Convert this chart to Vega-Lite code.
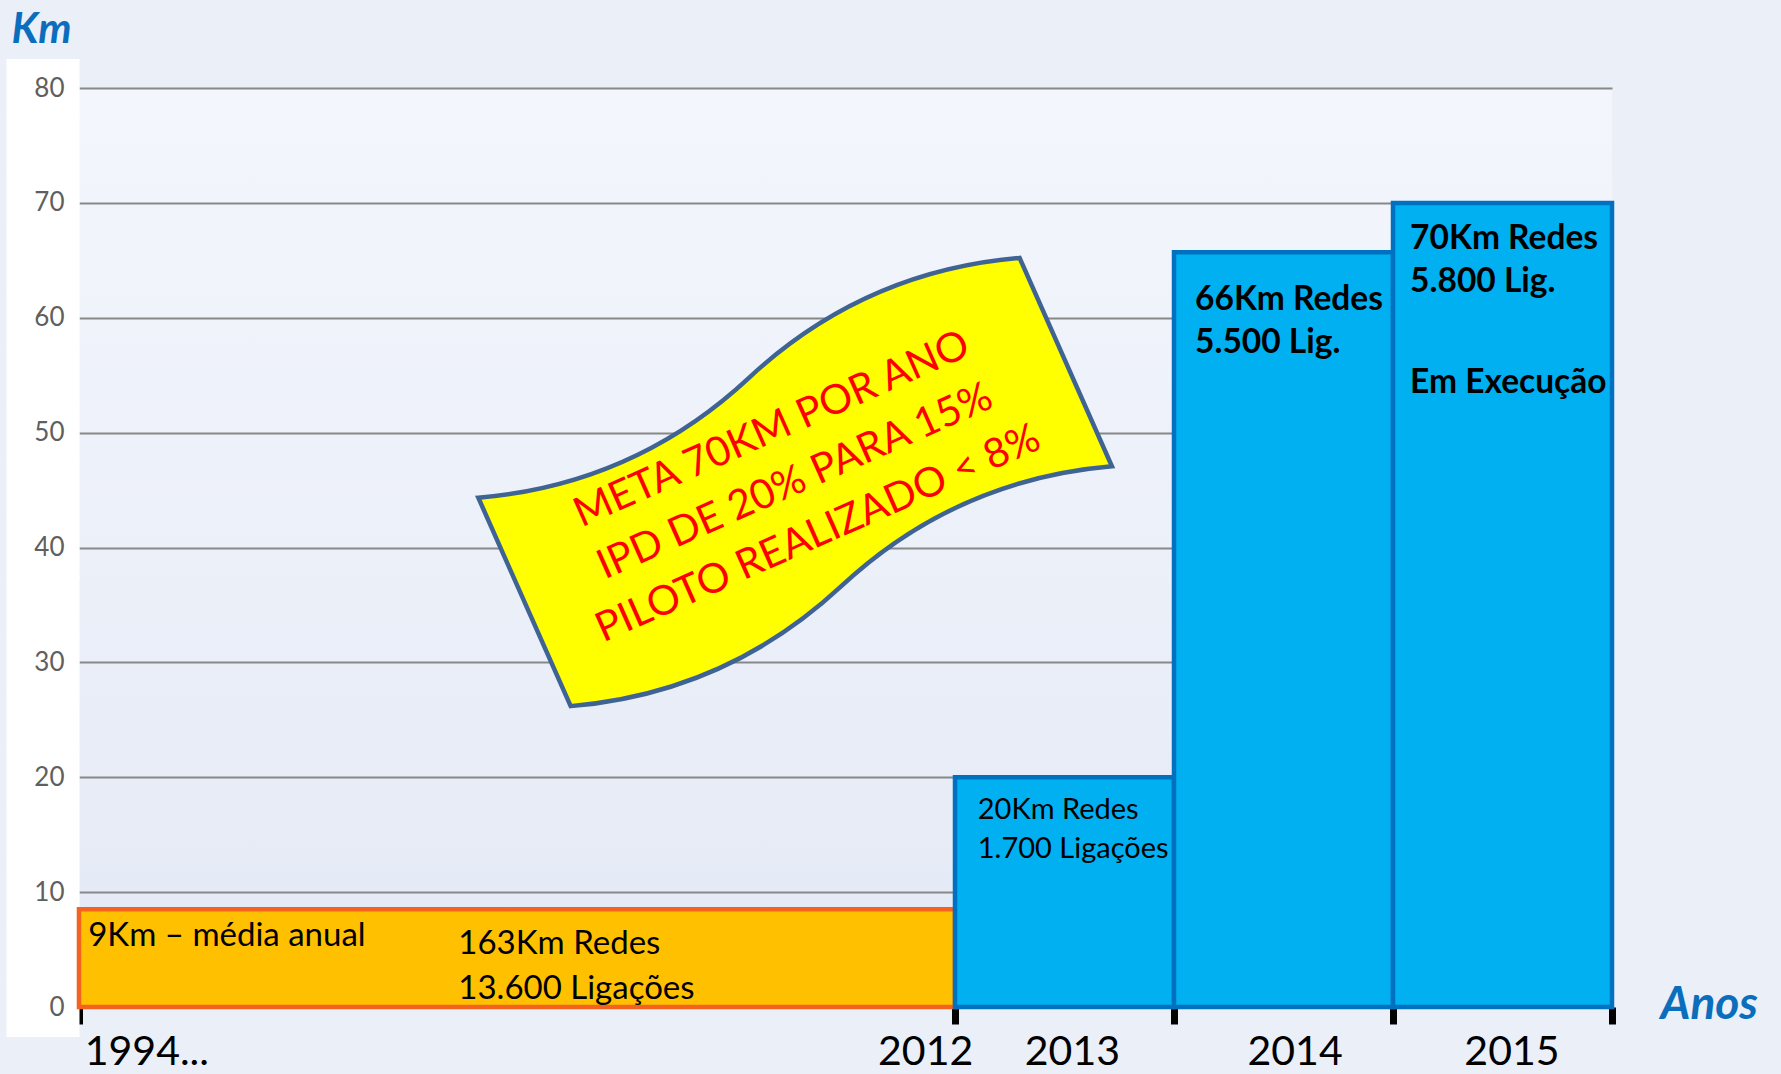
{
  "$schema": "https://vega.github.io/schema/vega-lite/v6.json",
  "width": 1533,
  "height": 919,
  "autosize": {"type": "none"},
  "padding": {"left": 79, "top": 88, "right": 169, "bottom": 67},
  "background": "#EAEFF8",
  "view": {
    "stroke": null,
    "fill": {
      "gradient": "linear", "x1": 0, "y1": 0, "x2": 0, "y2": 1,
      "stops": [
        {"offset": 0, "color": "#F3F6FC"},
        {"offset": 0.5, "color": "#ECF0F9"},
        {"offset": 1, "color": "#E3E9F5"}
      ]
    }
  },
  "datasets": {
    "barras": [
      {"periodo": "1994–2012", "inicio": 0, "fim": 4, "km": 8.5, "tipo": "Histórico"},
      {"periodo": "2013", "inicio": 4, "fim": 5, "km": 20, "tipo": "Programa"},
      {"periodo": "2014", "inicio": 5, "fim": 6, "km": 65.7, "tipo": "Programa"},
      {"periodo": "2015", "inicio": 6, "fim": 7, "km": 70, "tipo": "Programa"}
    ],
    "rotulos": [
      {"texto": "9Km – média anual", "x": 0.042, "y": 5.31, "estilo": "a"},
      {"texto": "163Km Redes\n13.600 Ligações", "x": 1.732, "y": 4.59, "estilo": "a"},
      {"texto": "20Km Redes\n1.700 Ligações", "x": 4.104, "y": 16.37, "estilo": "b"},
      {"texto": "66Km Redes\n5.500 Lig.", "x": 5.096, "y": 60.67, "estilo": "c"},
      {"texto": "70Km Redes\n5.800 Lig.", "x": 6.078, "y": 65.96, "estilo": "c"},
      {"texto": "Em Execução", "x": 6.078, "y": 53.47, "estilo": "c"}
    ],
    "anos": [
      {"ano": "1994...", "x": 0.31, "y": -5.05},
      {"ano": "2012", "x": 3.866, "y": -5.05},
      {"ano": "2013", "x": 4.536, "y": -5.05},
      {"ano": "2014", "x": 5.553, "y": -5.05},
      {"ano": "2015", "x": 6.543, "y": -5.05}
    ],
    "faixa": [
      {"x": 3.27, "y": 45.7, "texto": "META 70KM POR ANO\nIPD DE 20% PARA 15%\nPILOTO REALIZADO < 8%"}
    ]
  },
  "layer": [
    {
      "data": {"name": "barras"},
      "mark": {"type": "rect", "strokeWidth": 4.5, "strokeJoin": "miter"},
      "encoding": {
        "x": {
          "field": "inicio", "type": "quantitative",
          "scale": {"domain": [0, 7], "nice": false, "zero": false},
          "axis": {
            "values": [0, 4, 5, 6, 7],
            "labels": false, "domain": false, "grid": false,
            "ticks": true, "tickSize": 17, "tickWidth": 7, "tickColor": "#000000",
            "title": "Anos", "titleX": 1581, "titleY": 11,
            "titleAlign": "left", "titleBaseline": "alphabetic", "titleAngle": 0,
            "titleFont": "Lato", "titleFontSize": 46, "titleFontStyle": "italic",
            "titleFontWeight": "bold", "titleColor": "#0A6EBD"
          }
        },
        "x2": {"field": "fim"},
        "y": {
          "field": "km", "type": "quantitative",
          "scale": {"domain": [0, 80], "nice": false, "zero": true},
          "axis": {
            "values": [0, 5, 10, 15, 20, 25, 30, 35, 40, 45, 50, 55, 60, 65, 70, 75, 80],
            "labelExpr": "datum.value % 10 === 0 ? datum.label : ''",
            "title": "Km", "titleAngle": 0, "titleX": -68, "titleY": -46,
            "titleAlign": "left", "titleBaseline": "alphabetic",
            "titleFont": "Lato", "titleFontSize": 42, "titleFontStyle": "italic",
            "titleFontWeight": "bold", "titleColor": "#0A6EBD",
            "labelFont": "Lato", "labelFontSize": 26, "labelColor": "#5F5F5F",
            "labelPadding": -58,
            "ticks": true, "tickSize": 73, "tickWidth": 59, "tickColor": "#FFFFFF", "tickCap": "butt",
            "domain": false,
            "grid": true, "gridColor": "#888888", "gridWidth": 2,
            "gridOpacity": {"condition": {"test": "datum.value % 10 === 0", "value": 1}, "value": 0}
          }
        },
        "y2": {"datum": 0},
        "fill": {
          "field": "tipo", "type": "nominal",
          "scale": {"domain": ["Histórico", "Programa"], "range": ["#FFC000", "#00B0F0"]},
          "legend": null
        },
        "stroke": {
          "field": "tipo", "type": "nominal",
          "scale": {"domain": ["Histórico", "Programa"], "range": ["#F4621F", "#0070C0"]},
          "legend": null
        }
      }
    },
    {
      "data": {"name": "faixa"},
      "mark": {
        "type": "point",
        "shape": "M -1 -0.385 C -0.667 -0.27 -0.333 -0.27 0 -0.385 C 0.333 -0.5 0.667 -0.5 1 -0.385 L 1 0.385 C 0.667 0.27 0.333 0.27 0 0.385 C -0.333 0.5 -0.667 0.5 -1 0.385 Z",
        "size": 350464, "angle": 336.1,
        "filled": true, "fill": "#FFFF00", "stroke": "#3F6393", "strokeWidth": 4.5,
        "opacity": 1, "fillOpacity": 1
      },
      "encoding": {
        "x": {"field": "x", "type": "quantitative", "scale": {"domain": [0, 7], "nice": false, "zero": false}},
        "y": {"field": "y", "type": "quantitative", "scale": {"domain": [0, 80], "nice": false, "zero": true}}
      }
    },
    {
      "data": {"name": "faixa"},
      "mark": {
        "type": "text", "angle": 336.1, "font": "Lato", "fontSize": 41,
        "color": "#FF0000", "lineBreak": "\n", "lineHeight": 57,
        "align": "center", "baseline": "middle", "dy": -57
      },
      "encoding": {
        "x": {"field": "x", "type": "quantitative", "scale": {"domain": [0, 7], "nice": false, "zero": false}},
        "y": {"field": "y", "type": "quantitative", "scale": {"domain": [0, 80], "nice": false, "zero": true}},
        "text": {"field": "texto", "type": "nominal"}
      }
    },
    {
      "data": {"name": "rotulos"},
      "transform": [{"filter": "datum.estilo === 'a'"}],
      "mark": {
        "type": "text", "font": "Lato", "fontSize": 33, "color": "#000000",
        "lineBreak": "\n", "lineHeight": 45, "align": "left", "baseline": "alphabetic"
      },
      "encoding": {
        "x": {"field": "x", "type": "quantitative", "scale": {"domain": [0, 7], "nice": false, "zero": false}},
        "y": {"field": "y", "type": "quantitative", "scale": {"domain": [0, 80], "nice": false, "zero": true}},
        "text": {"field": "texto", "type": "nominal"}
      }
    },
    {
      "data": {"name": "rotulos"},
      "transform": [{"filter": "datum.estilo === 'b'"}],
      "mark": {
        "type": "text", "font": "Lato", "fontSize": 29, "color": "#000000",
        "lineBreak": "\n", "lineHeight": 39, "align": "left", "baseline": "alphabetic"
      },
      "encoding": {
        "x": {"field": "x", "type": "quantitative", "scale": {"domain": [0, 7], "nice": false, "zero": false}},
        "y": {"field": "y", "type": "quantitative", "scale": {"domain": [0, 80], "nice": false, "zero": true}},
        "text": {"field": "texto", "type": "nominal"}
      }
    },
    {
      "data": {"name": "rotulos"},
      "transform": [{"filter": "datum.estilo === 'c'"}],
      "mark": {
        "type": "text", "font": "Lato", "fontSize": 33.5, "fontWeight": "bold", "color": "#000000",
        "lineBreak": "\n", "lineHeight": 43, "align": "left", "baseline": "alphabetic"
      },
      "encoding": {
        "x": {"field": "x", "type": "quantitative", "scale": {"domain": [0, 7], "nice": false, "zero": false}},
        "y": {"field": "y", "type": "quantitative", "scale": {"domain": [0, 80], "nice": false, "zero": true}},
        "text": {"field": "texto", "type": "nominal"}
      }
    },
    {
      "data": {"name": "anos"},
      "mark": {
        "type": "text", "font": "Lato", "fontSize": 41, "color": "#000000",
        "align": "center", "baseline": "alphabetic"
      },
      "encoding": {
        "x": {"field": "x", "type": "quantitative", "scale": {"domain": [0, 7], "nice": false, "zero": false}},
        "y": {"field": "y", "type": "quantitative", "scale": {"domain": [0, 80], "nice": false, "zero": true}},
        "text": {"field": "ano", "type": "nominal"}
      }
    }
  ]
}
